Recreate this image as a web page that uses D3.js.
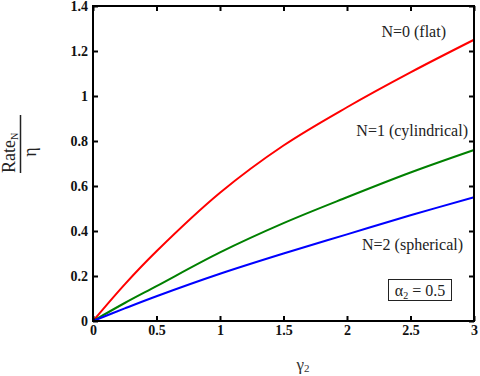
<!DOCTYPE html>
<html>
<head>
<meta charset="utf-8">
<script src="https://cdn.jsdelivr.net/npm/d3@7"></script>
<style>
  body { margin: 0; background: white; }
</style>
</head>
<body>
<div id="svgcontainer"></div>
<script>
// data
const gammaVals = [0, 0.25, 0.5, 1, 1.5, 2, 2.5, 3];
const flatVals = [0, 0.163, 0.31, 0.57, 0.78, 0.95, 1.105, 1.25];
const cylVals = [0, 0.08, 0.155, 0.305, 0.435, 0.55, 0.66, 0.76];
const sphVals = [0, 0.056, 0.11, 0.21, 0.3, 0.385, 0.47, 0.55];

const xTicks = [0, 0.5, 1, 1.5, 2, 2.5, 3];
const yTicks = [0, 0.2, 0.4, 0.6, 0.8, 1, 1.2, 1.4];

const width = 480;
const height = 376;

const plotLeft = 93;
const plotRight = 474;
const plotTop = 6;
const plotBottom = 321;

const serif = "Liberation Serif";

const svg = d3.select("#svgcontainer")
    .append("svg").attr("width", width).attr("height", height);

const x = d3.scaleLinear().domain([0, 3]).range([plotLeft, plotRight]);
const y = d3.scaleLinear().domain([0, 1.4]).range([plotBottom, plotTop]);

// curves
const line = d3.line()
    .x((d, i) => x(gammaVals[i]))
    .y(d => y(d))
    .curve(d3.curveCatmullRom);

const series = [
    { vals: flatVals, color: "#ff0000" },
    { vals: cylVals, color: "#008000" },
    { vals: sphVals, color: "#0000ff" }
];

series.forEach(s => {
    svg.append("path")
        .attr("d", line(s.vals))
        .attr("fill", "none")
        .attr("stroke", s.color)
        .attr("stroke-width", 2);
});

// axes, ticks inward on all four sides
const tickFmt = d => d3.format("")(d);

svg.append("g")
    .attr("transform", `translate(0,${plotBottom})`)
    .call(d3.axisBottom(x).tickValues(xTicks).tickSizeInner(-5).tickSizeOuter(0).tickPadding(6).tickFormat(tickFmt))
    .call(g => g.selectAll("text").attr("font-size", 14).attr("font-weight", "bold").attr("fill", "#111").attr("dy", "0.6em"));

svg.append("g")
    .attr("transform", `translate(0,${plotTop})`)
    .call(d3.axisTop(x).tickValues(xTicks).tickSizeInner(-5).tickSizeOuter(0).tickFormat(""));

svg.append("g")
    .attr("transform", `translate(${plotLeft},0)`)
    .call(d3.axisLeft(y).tickValues(yTicks).tickSizeInner(-5).tickSizeOuter(0).tickPadding(5).tickFormat(tickFmt))
    .call(g => g.selectAll("text").attr("font-size", 14).attr("font-weight", "bold").attr("fill", "#111"));

svg.append("g")
    .attr("transform", `translate(${plotRight},0)`)
    .call(d3.axisRight(y).tickValues(yTicks).tickSizeInner(-5).tickSizeOuter(0).tickFormat(""));

svg.selectAll(".domain").remove();
svg.selectAll(".tick line").attr("stroke", "black").attr("stroke-width", 2);

// frame
svg.append("rect")
    .attr("x", plotLeft)
    .attr("y", plotTop)
    .attr("width", plotRight - plotLeft)
    .attr("height", plotBottom - plotTop)
    .attr("fill", "none")
    .attr("stroke", "black")
    .attr("stroke-width", 2);

// curve labels
const labels = [
    { t: "N=0 (flat)", x: 446, y: 37 },
    { t: "N=1 (cylindrical)", x: 468, y: 136 },
    { t: "N=2 (spherical)", x: 463, y: 250 }
];
labels.forEach(l => {
    svg.append("text")
        .attr("x", l.x)
        .attr("y", l.y)
        .attr("text-anchor", "end")
        .attr("font-size", 16)
        .attr("fill", "#222")
        .text(l.t);
});

// alpha box
svg.append("rect")
    .attr("x", 388.5)
    .attr("y", 279.5)
    .attr("width", 63)
    .attr("height", 21)
    .attr("fill", "white")
    .attr("stroke", "#222")
    .attr("stroke-width", 1);

const alpha = svg.append("text")
    .attr("x", 420)
    .attr("y", 296)
    .attr("text-anchor", "middle")
    .attr("font-size", 16)
    .attr("fill", "#222");
alpha.append("tspan").text("α");
alpha.append("tspan").attr("font-size", 10).attr("dy", 3).text("2");
alpha.append("tspan").attr("dy", -3).text(" = 0.5");

// x label
const xLab = svg.append("text")
    .attr("x", 303)
    .attr("y", 370)
    .attr("text-anchor", "middle")
    .attr("font-size", 17)
    .attr("fill", "#333");
xLab.append("tspan").text("γ");
xLab.append("tspan").attr("font-size", 11).attr("dy", 2).text("2");

// y label, fraction rotated
const yLab = svg.append("g").attr("transform", "translate(0,144) rotate(-90)");

const rateText = yLab.append("text")
    .attr("x", -29)
    .attr("y", 15)
    .attr("font-size", 18)
    .attr("fill", "#222");
rateText.append("tspan").text("Rate");
rateText.append("tspan").attr("font-size", 10).attr("dy", 3).text("N");

yLab.append("line")
    .attr("x1", -29)
    .attr("x2", 29)
    .attr("y1", 20.5)
    .attr("y2", 20.5)
    .attr("stroke", "#222")
    .attr("stroke-width", 1.5);

yLab.append("text")
    .attr("x", -8)
    .attr("y", 36)
    .attr("text-anchor", "middle")
    .attr("font-size", 18)
    .attr("fill", "#222")
    .text("η");

// serif everywhere
svg.selectAll("text").style("font-family", serif);
</script>
</body>
</html>
